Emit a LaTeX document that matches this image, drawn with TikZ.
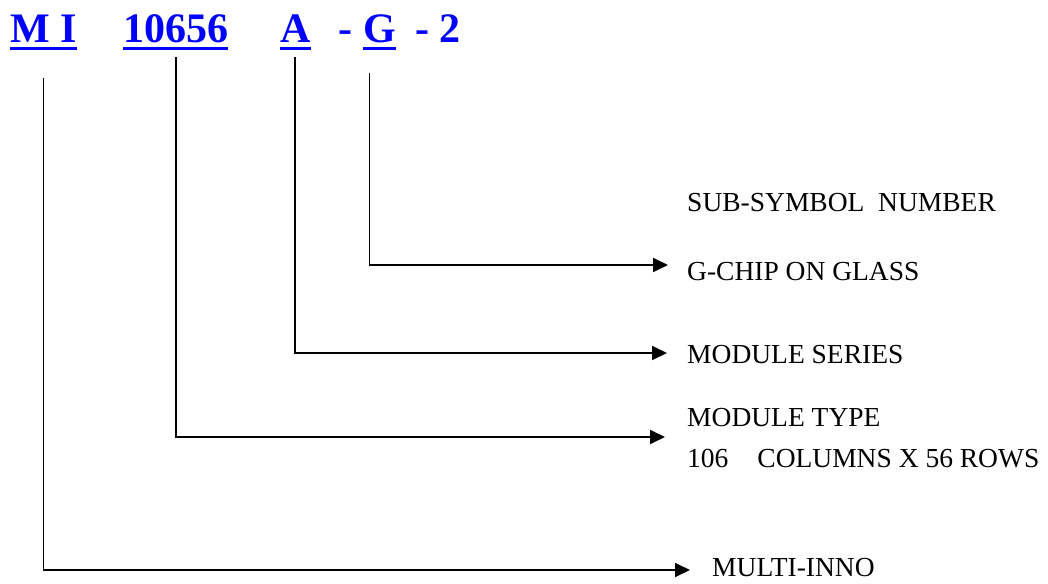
\documentclass[tikz,border=0pt]{standalone}
\usepackage{fontspec}
\setmainfont{Liberation Serif}
\usetikzlibrary{arrows.meta}
\tikzset{code/.style={inner sep=0pt, anchor=base west, text=blue,
			font=\fontsize{42}{46}\selectfont\bfseries},
		uline/.style={blue, line width=2.6pt},
		lbl/.style={inner sep=0pt, anchor=base west,
			font=\fontsize{27.5}{30}\selectfont},
		conn/.style={line width=1.8pt,
			-{Triangle[length=15pt,width=14pt]}}}

\begin{document}
\begin{tikzpicture}[x=1pt,y=-1pt]
		\useasboundingbox (0,0) rectangle (1048,583);
		
		% part number
		\node[code] (mi) at (10,43) {M I};
		\node[code] (type) at (123,43) {10656};
		\node[code] (series) at (280,43) {A};
		\node[code] (dashA) at (338,43) {-};
		\node[code] (cog) at (363,43) {G};
		\node[code] (sub) at (415,43) {- 2};
		
		\foreach \n in {mi,type,series,cog} {
			\draw[uline] ([yshift=-5.5]\n.base west) -- ([yshift=-5.5]\n.base east);
		}
		
		% texts
		\node[lbl] (subTxt) at (687,211) {SUB-SYMBOL\ \ NUMBER};
		\node[lbl] (cogTxt) at (687,280) {G-CHIP ON GLASS};
		\node[lbl] (seriesTxt) at (687,363) {MODULE SERIES};
		\node[lbl] (typeTxt) at (687,426) {MODULE TYPE};
		\node[lbl] (sizeTxt) at (687,467) {106\hspace{29pt}COLUMNS X 56 ROWS};
		\node[lbl] (miTxt) at (712,576) {MULTI-INNO};
		
		\coordinate (cogTop) at ([xshift=-10,yshift=-30]cog.base);
		\coordinate (seriesTop) at ([yshift=-14]series.base);
		\coordinate (typeTop) at ([yshift=-14]type.base);
		\coordinate (miTop) at ([yshift=-35]mi.base);
		
		\coordinate (cogEnd) at (668,265);
		\coordinate (seriesEnd) at (667,353);
		\coordinate (typeEnd) at (665,437);
		\coordinate (miEnd) at (690,570);
		
		\draw[conn] (cogTop) |- (cogEnd);
		\draw[conn] (seriesTop) |- (seriesEnd);
		\draw[conn] (typeTop) |- (typeEnd);
		\draw[conn] (miTop) |- (miEnd);
\end{tikzpicture}
\end{document}
